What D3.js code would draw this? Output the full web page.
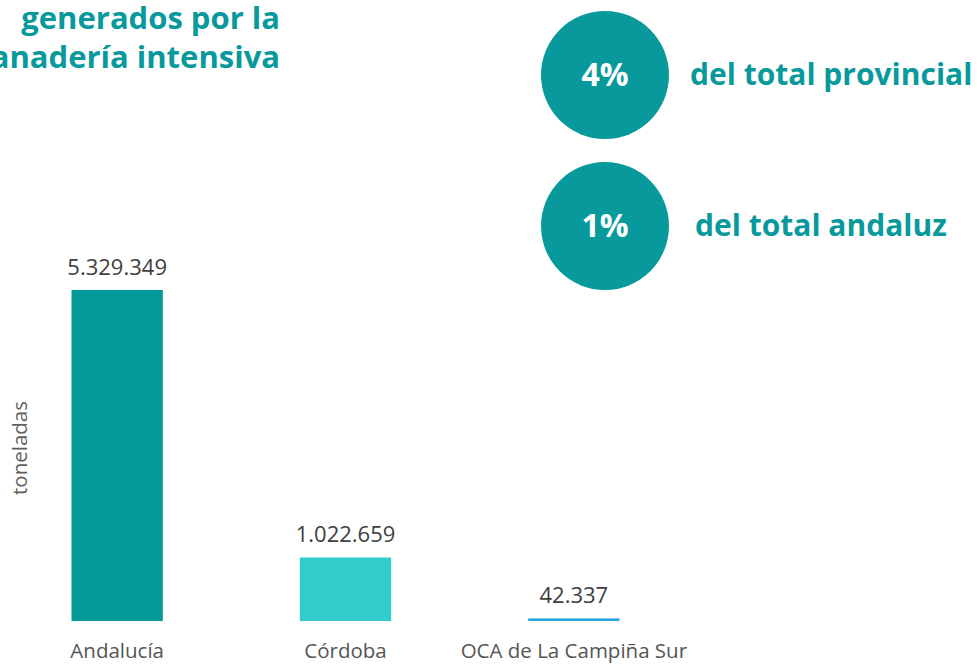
<!DOCTYPE html>
<html>
<head>
<meta charset="utf-8">
<script src="https://cdn.jsdelivr.net/npm/d3@7"></script>
<style>
  html, body { margin: 0; padding: 0; background: #ffffff; }
  svg { display: block; }
</style>
</head>
<body>
<svg id="chart" width="977" height="664"></svg>
<script>
// Residuos generados por la ganadería intensiva (toneladas)
const categories = ["Andalucía", "Córdoba", "OCA de La Campiña Sur"];
const values = [5329349, 1022659, 42337];
const valueLabels = ["5.329.349", "1.022.659", "42.337"];
const barColors = ["#059a9a", "#33cccc", "#2aa6dc"];

const titleLines = ["generados por la", "ganadería intensiva"];
const shares = ["4%", "1%"];
const shareLabels = ["del total provincial", "del total andaluz"];

const teal = "#07999c";
const headFont = "'Open Sans', sans-serif";
const bodyFont = "'Open Sans', sans-serif";
const svg = d3.select("#chart");

// Bar chart area
const plot = { left: 3, right: 688, top: 290, bottom: 621 };

const x = d3.scaleBand()
  .domain(categories)
  .range([plot.left, plot.right])
  .paddingInner(0.6)
  .paddingOuter(0.3);

const y = d3.scaleLinear()
  .domain([0, d3.max(values)])
  .range([plot.bottom, plot.top]);

const g = svg.append("g");

g.selectAll("rect.bar")
  .data(values)
  .join("rect")
  .attr("class", "bar")
  .attr("x", (d, i) => x(categories[i]))
  .attr("y", d => y(d))
  .attr("width", x.bandwidth())
  .attr("height", d => plot.bottom - y(d))
  .attr("fill", (d, i) => barColors[i]);

g.selectAll("text.value")
  .data(values)
  .join("text")
  .attr("class", "value")
  .attr("x", (d, i) => x(categories[i]) + x.bandwidth() / 2)
  .attr("y", d => y(d) - 15)
  .attr("text-anchor", "middle")
  .attr("font-family", bodyFont)
  .attr("font-size", 22)
  .attr("fill", "#404040")
  .text((d, i) => valueLabels[i]);

// Category axis (labels only)
const xAxis = d3.axisBottom(x).tickSize(0).tickPadding(0);
const axisG = g.append("g")
  .attr("transform", `translate(0,${plot.bottom + 37})`)
  .call(xAxis);
axisG.select(".domain").remove();
axisG.selectAll("text")
  .attr("font-family", bodyFont)
  .attr("font-size", 20.5)
  .attr("fill", "#555555")
  .attr("dy", 0);

// Y axis title
svg.append("text")
  .attr("transform", "translate(27,448) rotate(-90)")
  .attr("text-anchor", "middle")
  .attr("font-family", bodyFont)
  .attr("font-size", 20.5)
  .attr("fill", "#5f5f5f")
  .text("toneladas");

// Heading (first word of the second line runs past the left edge)
svg.append("g")
  .selectAll("text")
  .data(titleLines)
  .join("text")
  .attr("x", 280)
  .attr("y", (d, i) => 29 + i * 39)
  .attr("text-anchor", "end")
  .attr("font-family", headFont)
  .attr("font-weight", 700)
  .attr("font-size", 31)
  .attr("fill", teal)
  .text(d => d);

// Share badges
const badgeY = d3.scalePoint().domain(shares).range([75, 226]);

const badges = svg.append("g")
  .selectAll("g")
  .data(shares)
  .join("g")
  .attr("transform", d => `translate(605,${badgeY(d)})`);

badges.append("circle")
  .attr("r", 64)
  .attr("fill", teal);

badges.append("text")
  .attr("y", 11)
  .attr("text-anchor", "middle")
  .attr("font-family", headFont)
  .attr("font-weight", 700)
  .attr("font-size", 32)
  .attr("fill", "#ffffff")
  .text(d => d);

badges.append("text")
  .attr("x", (d, i) => i === 0 ? 85 : 90)
  .attr("y", 10)
  .attr("font-family", headFont)
  .attr("font-weight", 700)
  .attr("font-size", 30)
  .attr("fill", teal)
  .text((d, i) => shareLabels[i]);
</script>
</body>
</html>
